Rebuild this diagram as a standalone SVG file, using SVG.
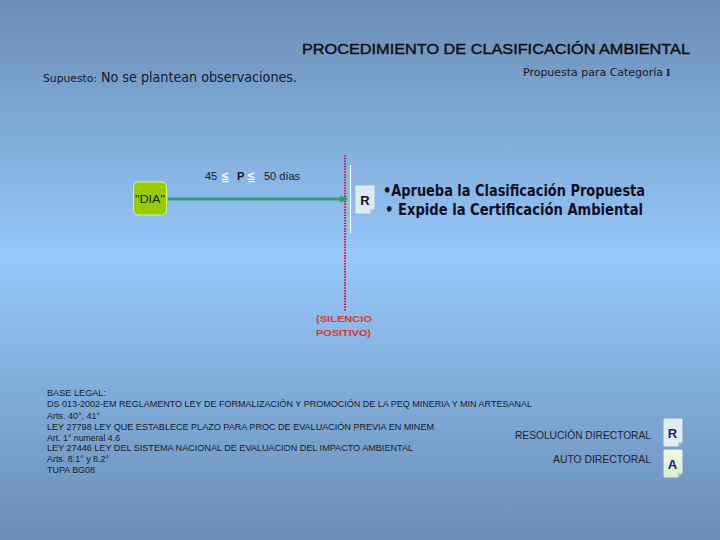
<svg xmlns="http://www.w3.org/2000/svg" width="720" height="540" viewBox="0 0 720 540">
<defs>
<linearGradient id="bg" x1="0" y1="0" x2="0" y2="1">
<stop offset="0" stop-color="#6a8db5"/>
<stop offset="0.48" stop-color="#96c8fa"/>
<stop offset="1" stop-color="#6a8db5"/>
</linearGradient>
<linearGradient id="gA" x1="0" y1="0" x2="0" y2="1">
<stop offset="0" stop-color="#f0fae6"/>
<stop offset="1" stop-color="#d6f0c0"/>
</linearGradient>
<marker id="arr" markerWidth="8" markerHeight="8" refX="7" refY="4" orient="auto" markerUnits="userSpaceOnUse">
<path d="M0,0.5 L8,4 L0,7.5 Z" fill="#339977"/>
</marker>
<style>
.sans{font-family:"Liberation Sans",Arial,sans-serif}
.comic{font-family:"DejaVu Sans","Noto Sans",sans-serif}
.legal{font-family:"Liberation Sans",Arial,sans-serif;font-size:8.5px;fill:#141a2a}
.legend{font-family:"Liberation Sans",Arial,sans-serif;font-size:10px;fill:#1a1f33}
.box{stroke:#f4f8fc;stroke-width:0.8}
.fold{fill:#9fb3c8}
</style>
</defs>
<rect x="0" y="0" width="720" height="540" fill="url(#bg)"/>

<text class="sans" x="302" y="54" font-size="14.5" fill="#0d0d14" stroke="#0d0d14" stroke-width="0.4" textLength="388" lengthAdjust="spacingAndGlyphs">PROCEDIMIENTO DE CLASIFICACIÓN AMBIENTAL</text>
<text class="comic" x="43" y="82" fill="#14182a"><tspan font-size="10" textLength="54" lengthAdjust="spacingAndGlyphs">Supuesto:</tspan><tspan x="101" font-size="13.5" textLength="196" lengthAdjust="spacingAndGlyphs">No se plantean observaciones.</tspan></text>
<text class="comic" x="523" y="76" font-size="10" fill="#14182a"><tspan textLength="140" lengthAdjust="spacingAndGlyphs">Propuesta para Categoría</tspan><tspan x="666" font-family="'Liberation Serif',serif" font-weight="bold" font-size="11">I</tspan></text>

<g id="connectors">
<line id="timeline" x1="345" y1="155" x2="345" y2="311" stroke="#cc1f3f" stroke-width="2" stroke-dasharray="1.5 1.2"/>
<line id="divider" x1="350.5" y1="165" x2="350.5" y2="233" stroke="#ffffff" stroke-width="1.2"/>
<line id="arrow" x1="168" y1="199" x2="347" y2="199" stroke="#339977" stroke-width="3" marker-end="url(#arr)"/>
<text class="sans" y="180" font-size="11" fill="#14182a"><tspan x="205">45</tspan><tspan x="222" font-size="12" font-weight="bold" fill="#ffffff" text-decoration="underline">≤</tspan><tspan x="237" font-weight="bold">P</tspan><tspan x="248" font-size="12" font-weight="bold" fill="#ffffff" text-decoration="underline">≤</tspan><tspan x="264">50 días</tspan></text>
<text class="sans" x="316" y="322" font-size="9.5" font-weight="bold" fill="#d63a2a" textLength="56" lengthAdjust="spacingAndGlyphs">(SILENCIO</text>
<text class="sans" x="316" y="336" font-size="9.5" font-weight="bold" fill="#d63a2a" textLength="55" lengthAdjust="spacingAndGlyphs">POSITIVO)</text>
</g>

<g id="node-dia">
<rect x="133.5" y="182" width="33" height="33" rx="5" fill="#99cc00" stroke="#d8f0a0" stroke-width="1"/>
<text class="sans" x="150" y="203" font-size="10" fill="#1a2010" text-anchor="middle" textLength="30" lengthAdjust="spacingAndGlyphs">"DIA"</text>
</g>

<g id="node-r">
<path class="box" d="M356,186 H374 V209 L370,213 H356 Z" fill="#dde9f6"/>
<path class="fold" d="M374,209 L370,213 L370.5,209.5 Z"/>
<text class="sans" x="365" y="205" font-size="13" font-weight="bold" fill="#111" text-anchor="middle">R</text>
</g>

<g id="node-result">
<text class="comic" x="383" y="196" font-size="15" font-weight="bold" fill="#0a0f26" textLength="262" lengthAdjust="spacingAndGlyphs">•Aprueba la Clasificación Propuesta</text>
<text class="comic" x="385" y="215" font-size="15" font-weight="bold" fill="#0a0f26" textLength="258" lengthAdjust="spacingAndGlyphs">• Expide la Certificación Ambiental</text>
</g>

<g id="base-legal">
<text class="legal" x="47" y="396" textLength="59" lengthAdjust="spacingAndGlyphs">BASE LEGAL:</text>
<text class="legal" x="47" y="407" textLength="485" lengthAdjust="spacingAndGlyphs">DS 013-2002-EM REGLAMENTO LEY DE FORMALIZACIÓN Y PROMOCIÓN DE LA PEQ MINERIA Y MIN ARTESANAL</text>
<text class="legal" x="47" y="419" textLength="53" lengthAdjust="spacingAndGlyphs">Arts. 40°, 41°</text>
<text class="legal" x="47" y="430" textLength="387" lengthAdjust="spacingAndGlyphs">LEY 27798 LEY QUE ESTABLECE PLAZO PARA PROC DE EVALUACIÓN PREVIA EN MINEM</text>
<text class="legal" x="47" y="441" textLength="73" lengthAdjust="spacingAndGlyphs">Art. 1° numeral 4.6</text>
<text class="legal" x="47" y="451" textLength="366" lengthAdjust="spacingAndGlyphs">LEY 27446 LEY DEL SISTEMA NACIONAL DE EVALUACION DEL IMPACTO AMBIENTAL</text>
<text class="legal" x="47" y="462" textLength="62" lengthAdjust="spacingAndGlyphs">Arts. 8.1° y 8.2°</text>
<text class="legal" x="47" y="473" textLength="48" lengthAdjust="spacingAndGlyphs">TUPA BG08</text>
</g>

<g id="legend-r">
<text class="legend" x="651" y="439" text-anchor="end" textLength="136" lengthAdjust="spacingAndGlyphs">RESOLUCIÓN DIRECTORAL</text>
<path class="box" d="M664,419 H682 V442 L678,446 H664 Z" fill="#e0ecf8"/>
<path class="fold" d="M682,442 L678,446 L678.5,442.5 Z"/>
<text class="sans" x="672.5" y="438" font-size="13" font-weight="bold" fill="#1a2470" text-anchor="middle">R</text>
</g>

<g id="legend-a">
<text class="legend" x="651" y="463" text-anchor="end" textLength="98" lengthAdjust="spacingAndGlyphs">AUTO DIRECTORAL</text>
<path class="box" d="M664,450 H682 V473 L678,477 H664 Z" fill="url(#gA)"/>
<path class="fold" d="M682,473 L678,477 L678.5,473.5 Z"/>
<text class="sans" x="672.5" y="469" font-size="13" font-weight="bold" fill="#1a2470" text-anchor="middle">A</text>
</g>
</svg>
